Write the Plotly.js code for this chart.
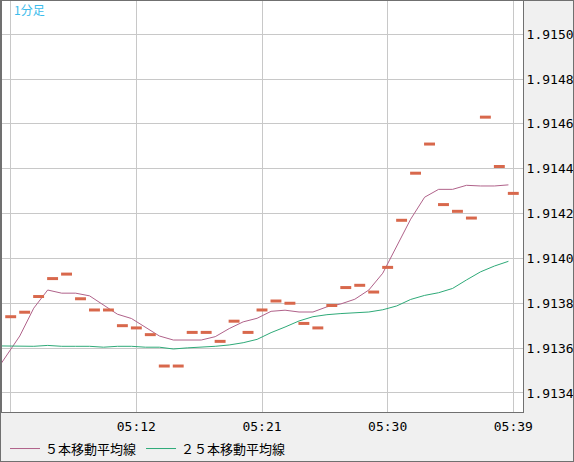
<!DOCTYPE html>
<html>
<head>
<meta charset="utf-8">
<script src="https://cdn.plot.ly/plotly-3.0.1.min.js"></script>
<style>
  body { margin: 0; background: #f0f0f0; }
  #chart { width: 572px; height: 460px; border: 1px solid #707070; }
</style>
</head>
<body>
<div id="chart"></div>
<script>
// 1-minute closes, 05:03 - 05:39
const minutes = ['05:03', '05:04', '05:05', '05:06', '05:07', '05:08', '05:09', '05:10', '05:11', '05:12',
    '05:13', '05:14', '05:15', '05:16', '05:17', '05:18', '05:19', '05:20', '05:21', '05:22',
    '05:23', '05:24', '05:25', '05:26', '05:27', '05:28', '05:29', '05:30', '05:31', '05:32',
    '05:33', '05:34', '05:35', '05:36', '05:37', '05:38', '05:39'];
const closes = [1.91374, 1.91376, 1.91383, 1.91391, 1.91393, 1.91382, 1.91377, 1.91377, 1.91370, 1.91369,
    1.91366, 1.91352, 1.91352, 1.91367, 1.91367, 1.91363, 1.91372, 1.91367, 1.91377, 1.91381,
    1.91380, 1.91371, 1.91369, 1.91379, 1.91387, 1.91388, 1.91385, 1.91396, 1.91417, 1.91438,
    1.91451, 1.91424, 1.91421, 1.91418, 1.91463, 1.91441, 1.91429];

// moving averages start one minute earlier (05:02)
const maMinutes = ['05:02'].concat(minutes);
const ma5 = [1.913470, 1.913562, 1.913654, 1.913778, 1.913859, 1.913845, 1.913845, 1.913833, 1.913792, 1.913751, 1.913732,
    1.913691, 1.913654, 1.913636, 1.913636, 1.913636, 1.913651, 1.913687, 1.913717, 1.913733, 1.913764,
    1.913769, 1.913761, 1.913761, 1.913784, 1.913797, 1.913818, 1.913859, 1.913934, 1.914051, 1.914175,
    1.914273, 1.914308, 1.914308, 1.914326, 1.914323, 1.914323, 1.914328];
const ma25 = [1.913610, 1.913609, 1.913608, 1.913608, 1.913612, 1.913608, 1.913608, 1.913608, 1.913604, 1.913608, 1.913608,
    1.913604, 1.913604, 1.913596, 1.913601, 1.913604, 1.913608, 1.913614, 1.913624, 1.913639, 1.913669,
    1.913694, 1.913721, 1.913740, 1.913749, 1.913754, 1.913757, 1.913761, 1.913771, 1.913788, 1.913817,
    1.913835, 1.913847, 1.913866, 1.913904, 1.913940, 1.913966, 1.913987];

const tickMinutes = ['05:03', '05:12', '05:21', '05:30', '05:39'];
const tickLabels = ['', '05:12', '05:21', '05:30', '05:39'];

const day = '2024-01-01';
function toDate(t, shiftSec) {
    const d = new Date(day + 'T' + t + ':00Z');
    d.setUTCSeconds(d.getUTCSeconds() + (shiftSec || 0));
    return d.toISOString().slice(0, 19).replace('T', ' ');
}

// the averages are drawn at the left end of each bar
const maShift = -21;

const traces = [
    {
        x: maMinutes.map(t => toDate(t, maShift)),
        y: ma5,
        type: 'scatter',
        mode: 'lines',
        name: '５本移動平均線',
        line: { color: '#b0628a', width: 1 }
    },
    {
        x: maMinutes.map(t => toDate(t, maShift)),
        y: ma25,
        type: 'scatter',
        mode: 'lines',
        name: '２５本移動平均線',
        line: { color: '#2eaa78', width: 1 }
    },
    {
        x: minutes.map(t => toDate(t)),
        y: closes,
        type: 'scatter',
        mode: 'markers',
        showlegend: false,
        marker: { symbol: 'line-ew', size: 7.8, line: { color: '#d8684c', width: 3 } }
    }
];

const monoFont = { family: 'DejaVu Sans Mono', size: 13, color: '#000' };

const layout = {
    width: 572,
    height: 460,
    margin: { l: 1, r: 50, t: 0, b: 49, autoexpand: false },
    paper_bgcolor: '#f0f0f0',
    plot_bgcolor: '#ffffff',
    showlegend: true,
    legend: {
        orientation: 'h',
        xref: 'container',
        yref: 'container',
        x: 0.007,
        xanchor: 'left',
        y: 0.027,
        yanchor: 'middle',
        font: { family: 'Noto Sans CJK JP', size: 13, color: '#000' },
        bgcolor: 'rgba(0,0,0,0)'
    },
    xaxis: {
        type: 'date',
        range: [day + ' 05:02:22.6', day + ' 05:39:41.7'],
        tickvals: tickMinutes.map(t => toDate(t)),
        ticktext: tickLabels,
        tickfont: monoFont,
        ticklabelstandoff: 2,
        showgrid: true,
        gridcolor: '#c8c8c8',
        gridwidth: 1,
        showline: true,
        linecolor: '#707070',
        linewidth: 1,
        mirror: true,
        zeroline: false,
        fixedrange: true
    },
    yaxis: {
        side: 'right',
        range: [1.913315, 1.915148],
        tick0: 1.9134,
        dtick: 0.0002,
        tickformat: '.4f',
        tickfont: monoFont,
        showgrid: true,
        gridcolor: '#c8c8c8',
        gridwidth: 1,
        showline: true,
        linecolor: '#707070',
        linewidth: 1,
        mirror: true,
        zeroline: false,
        fixedrange: true
    },
    annotations: [{
        text: '1分足',
        xref: 'paper', yref: 'paper',
        x: 0.02, y: 0.98,
        xanchor: 'left', yanchor: 'middle',
        showarrow: false,
        font: { family: 'Noto Sans CJK JP', size: 12, color: '#3cbcec' }
    }]
};

Plotly.newPlot('chart', traces, layout, { displayModeBar: false, staticPlot: true });
</script>
</body>
</html>
